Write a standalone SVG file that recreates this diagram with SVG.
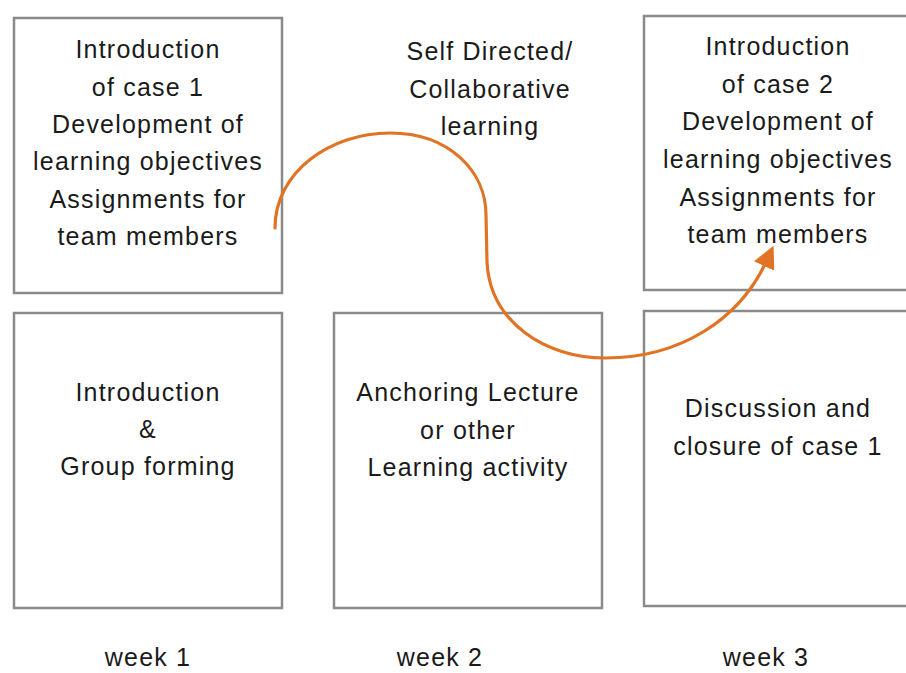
<svg xmlns="http://www.w3.org/2000/svg" width="906" height="673" viewBox="0 0 906 673">
<style>
.box{fill:#fff;stroke:#8a8a8a;stroke-width:2.5}
.t{font-family:"Liberation Sans","DejaVu Sans",sans-serif;font-size:25px;fill:#1a1a1a;text-anchor:middle;letter-spacing:1.2px}
.c{fill:none;stroke:#e07424;stroke-width:3.2;stroke-linecap:round}
</style>
<defs>
<marker id="ah" viewBox="0 0 10 10" refX="2" refY="5" markerWidth="7" markerHeight="7" orient="auto" markerUnits="strokeWidth">
<path d="M0,0 L10,5 L0,10 z" fill="#e07424"/>
</marker>
</defs>
<rect width="906" height="673" fill="#fff"/>
<g id="n1">
<rect class="box" x="14" y="18" width="268" height="275"/>
<text class="t" x="148" y="58">Introduction</text>
<text class="t" x="148" y="96">of case 1</text>
<text class="t" x="148" y="133">Development of</text>
<text class="t" x="148" y="170">learning objectives</text>
<text class="t" x="148" y="208">Assignments for</text>
<text class="t" x="148" y="245">team members</text>
</g>
<g id="n2">
<text class="t" x="490" y="60">Self Directed/</text>
<text class="t" x="490" y="98">Collaborative</text>
<text class="t" x="490" y="135">learning</text>
</g>
<g id="n3">
<rect class="box" x="644" y="16" width="268" height="274"/>
<text class="t" x="778" y="55">Introduction</text>
<text class="t" x="778" y="93">of case 2</text>
<text class="t" x="778" y="130">Development of</text>
<text class="t" x="778" y="168">learning objectives</text>
<text class="t" x="778" y="206">Assignments for</text>
<text class="t" x="778" y="243">team members</text>
</g>
<g id="n4">
<rect class="box" x="14" y="313" width="268" height="295"/>
<text class="t" x="148" y="401">Introduction</text>
<text class="t" x="148" y="438">&amp;</text>
<text class="t" x="148" y="475">Group forming</text>
</g>
<g id="n5">
<rect class="box" x="334" y="313" width="268" height="295"/>
<text class="t" x="468" y="401">Anchoring Lecture</text>
<text class="t" x="468" y="439">or other</text>
<text class="t" x="468" y="476">Learning activity</text>
</g>
<g id="n6">
<rect class="box" x="644" y="311" width="268" height="295"/>
<text class="t" x="778" y="417">Discussion and</text>
<text class="t" x="778" y="455">closure of case 1</text>
</g>
<g id="weeks">
<text class="t" x="148" y="666">week 1</text>
<text class="t" x="440" y="666">week 2</text>
<text class="t" x="766" y="666">week 3</text>
</g>
<g id="connectors">
<path class="c" marker-end="url(#ah)" d="M275,228 C275,172 330,133 390,133 C450,133 486,172 486,215 L487,262 C490,322 545,358 605,358 C682,358 740,318 766,262"/>
</g>
</svg>
